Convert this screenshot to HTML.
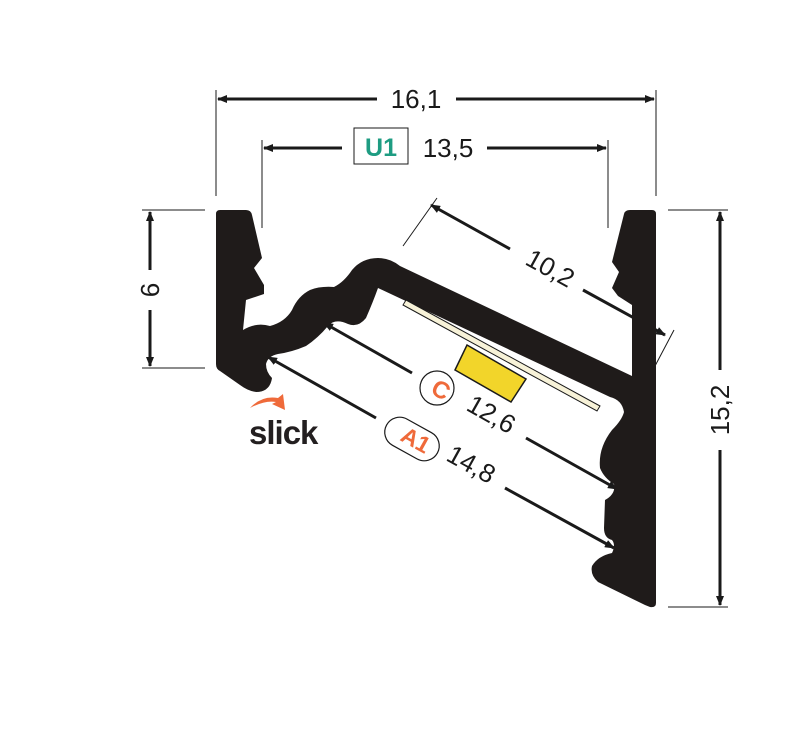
<!DOCTYPE html>
<html><head><style>body{margin:0;background:#fff}svg{display:block}</style></head><body>
<svg width="800" height="729" viewBox="0 0 800 729" xmlns="http://www.w3.org/2000/svg" font-family="Liberation Sans, sans-serif">
<defs><marker id="a" markerWidth="10" markerHeight="8" refX="9" refY="4" orient="auto" markerUnits="userSpaceOnUse"><path d="M0,0 L10,4 L0,8z" fill="#1a1a1a"/></marker>
<marker id="b" markerWidth="10" markerHeight="8" refX="1" refY="4" orient="auto" markerUnits="userSpaceOnUse"><path d="M10,0 L0,4 L10,8z" fill="#1a1a1a"/></marker></defs>
<g stroke="#1a1a1a" stroke-width="1" fill="none">
<line x1="216" y1="90" x2="216" y2="196"/><line x1="656" y1="90" x2="656" y2="196"/>
<line x1="262" y1="140" x2="262" y2="228"/><line x1="608" y1="140" x2="608" y2="228"/>
<line x1="142" y1="210" x2="205" y2="210"/><line x1="142" y1="368" x2="205" y2="368"/>
<line x1="668" y1="210" x2="728" y2="210"/><line x1="668" y1="607" x2="728" y2="607"/>
<line x1="403" y1="246" x2="437" y2="198"/><line x1="655" y1="366" x2="674" y2="330"/>
</g>
<g stroke="#1a1a1a" stroke-width="3" fill="none">
<line x1="218" y1="99" x2="377" y2="99" marker-start="url(#b)"/><line x1="456" y1="99" x2="654" y2="99" marker-end="url(#a)"/>
<line x1="264" y1="148" x2="342" y2="148" marker-start="url(#b)"/><line x1="487" y1="148" x2="606" y2="148" marker-end="url(#a)"/>
<line x1="150" y1="212" x2="150" y2="270" marker-start="url(#b)"/><line x1="150" y1="310" x2="150" y2="366" marker-end="url(#a)"/>
<line x1="720" y1="212" x2="720" y2="370" marker-start="url(#b)"/><line x1="720" y1="450" x2="720" y2="605" marker-end="url(#a)"/>
<line x1="431" y1="205" x2="510" y2="249" marker-start="url(#b)"/><line x1="583" y1="290" x2="665" y2="335" marker-end="url(#a)"/>
<line x1="324" y1="323" x2="412" y2="373" marker-start="url(#b)"/><line x1="526" y1="438" x2="617" y2="489" marker-end="url(#a)"/>
<line x1="268" y1="357" x2="376" y2="418" marker-start="url(#b)"/><line x1="505" y1="488" x2="614" y2="548" marker-end="url(#a)"/>
</g>
<path fill="#1f1b1a" d="M220,210 L246,210 Q251,210 252,215 L262,258 L254,268 L264,285 L264,294 L246,300 L243,330 Q256,322 270,326 Q285,322 292,310 Q298,296 310,290 Q320,286 334,287 Q344,282 352,270 Q362,258 378,258 Q390,258 400,266 L632,376 L632,305 L618,296 L612,288 L619,272 L612,262 L624,214 Q625,210 630,210 L652,210 Q656,210 656,214 L656,603 Q656,608 650,607 L645,605 L598,582 Q590,575 592,566 Q598,556 612,553 Q616,545 612,540 Q604,538 604,528 L605,500 Q616,494 614,484 Q604,478 600,468 Q598,448 612,430 Q622,420 624,412 Q622,400 610,397 L378,288 Q373,302 366,318 Q358,328 348,324 Q335,318 328,326 Q318,338 306,346 Q292,352 278,354 Q268,356 266,364 Q266,372 272,378 Q270,392 256,392 Q248,391 240,385 L220,371 Q216,369 216,364 L216,214 Q216,210 220,210Z"/>
<polygon points="406,300 600,406 597,411 403,305" fill="#f7f2d8" stroke="#1a1a1a" stroke-width="1"/>
<polygon points="467,345 526,379 511,402 455,370" fill="#f2d52a" stroke="#1a1a1a" stroke-width="1.5"/>
<g fill="#1a1a1a" font-size="26">
<text x="416" y="108" text-anchor="middle">16,1</text>
<text x="448" y="157" text-anchor="middle">13,5</text>
<text transform="translate(159,290) rotate(-90)" text-anchor="middle">6</text>
<text transform="translate(729,410) rotate(-90)" text-anchor="middle">15,2</text>
<text transform="translate(546,276) rotate(29)" text-anchor="middle">10,2</text>
<text transform="translate(487,422) rotate(29.5)" text-anchor="middle">12,6</text>
<text transform="translate(467,472) rotate(29)" text-anchor="middle">14,8</text>
</g>
<rect x="354" y="128" width="54" height="36" fill="#fff" stroke="#1a1a1a" stroke-width="1"/>
<text x="381" y="156" text-anchor="middle" font-size="25" font-weight="bold" fill="#1e9c82">U1</text>
<circle cx="437" cy="388" r="17" fill="#fff" stroke="#1a1a1a" stroke-width="1.2"/>
<text transform="translate(437,397) rotate(29)" text-anchor="middle" font-size="24" font-weight="bold" fill="#ef6a3a">C</text>
<rect x="383" y="424" width="58" height="30" rx="15" transform="rotate(29 412 439)" fill="#fff" stroke="#1a1a1a" stroke-width="1.2"/>
<text transform="translate(412,447) rotate(29)" text-anchor="middle" font-size="23" font-weight="bold" fill="#ef6a3a">A1</text>
<path d="M250,408 Q262,395 278,398 L283,394 L285,410 L272,404 L276,402 Q265,400 250,408Z" fill="#ef6a3a"/>
<text x="249" y="444" font-size="33" font-weight="bold" fill="#231f20" letter-spacing="-1">slick</text>
</svg>
</body></html>
